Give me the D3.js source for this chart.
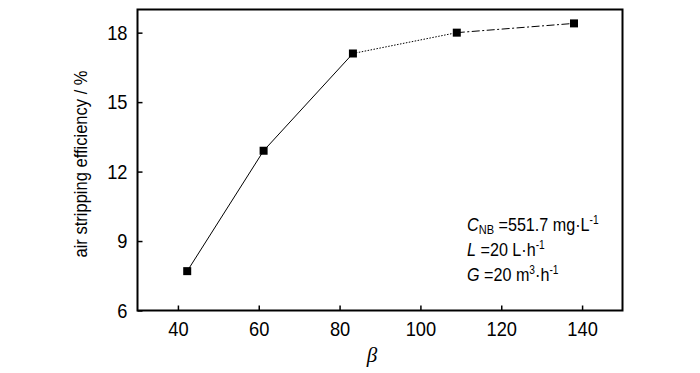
<!DOCTYPE html>
<html>
<head>
<meta charset="utf-8">
<script src="https://cdn.jsdelivr.net/npm/d3@7"></script>
<style>
  body { margin: 0; background: #fff; }
  svg { display: block; }
</style>
</head>
<body>
<div id="chart"></div>
<script>
const beta = [42.3, 61.2, 83.3, 109, 138]
const efficiency = [7.7, 12.9, 17.1, 18.0, 18.4]
// line style of each segment between consecutive points
const segStyles = ['solid', 'solid', 'dotted', 'dashdot']
const xTicks = [40, 60, 80, 100, 120, 140]
const yTicks = [6, 9, 12, 15, 18]

const width = 700
const height = 373
const margin = { top: 9.5, right: 77.5, bottom: 62.5, left: 137.5 }
const font = '"Liberation Sans", Arial, sans-serif'
const narrow = 0.87 // the original type is condensed

const dashes = { solid: null, dotted: '1.5,1.5', dashdot: '8,2.5,2,2.5' }

const x = d3.scaleLinear()
  .domain([30, 150])
  .range([margin.left, width - margin.right])

const y = d3.scaleLinear()
  .domain([6, 19])
  .range([height - margin.bottom, margin.top])

const svg = d3.select('#chart').append('svg')
  .attr('width', width)
  .attr('height', height)

const points = beta.map((b, i) => ({ b, e: efficiency[i] }))

// connecting segments
svg.append('g')
  .selectAll('line')
  .data(segStyles)
  .join('line')
  .attr('x1', (d, i) => x(points[i].b))
  .attr('y1', (d, i) => y(points[i].e))
  .attr('x2', (d, i) => x(points[i + 1].b))
  .attr('y2', (d, i) => y(points[i + 1].e))
  .attr('stroke', '#000')
  .attr('stroke-width', 1)
  .attr('stroke-dasharray', d => dashes[d])

// markers
svg.append('g')
  .selectAll('rect')
  .data(points)
  .join('rect')
  .attr('x', d => x(d.b) - 4)
  .attr('y', d => y(d.e) - 4)
  .attr('width', 8)
  .attr('height', 8)
  .attr('fill', '#000')

// axes, ticks pointing inward
const xAxis = svg.append('g')
  .attr('transform', `translate(0,${height - margin.bottom})`)
  .call(d3.axisBottom(x).tickValues(xTicks).tickSizeInner(-5).tickSizeOuter(0).tickPadding(11))
const yAxis = svg.append('g')
  .attr('transform', `translate(${margin.left},0)`)
  .call(d3.axisLeft(y).tickValues(yTicks).tickSizeInner(-5).tickSizeOuter(0).tickPadding(10))

;[xAxis, yAxis].forEach(g => {
  g.select('.domain').remove()
  g.selectAll('.tick line').attr('stroke', '#000').attr('stroke-width', 1.5)
  g.selectAll('.tick text')
    .attr('fill', '#000')
    .attr('font-family', font)
    .attr('font-size', 21)
})
xAxis.selectAll('.tick text')
  .attr('dy', '0.71em')
  .attr('transform', `scale(${narrow},1)`)
yAxis.selectAll('.tick text')
  .attr('x', -10 / narrow)
  .attr('transform', `scale(${narrow},1)`)

// frame
svg.append('rect')
  .attr('x', margin.left)
  .attr('y', margin.top)
  .attr('width', width - margin.left - margin.right)
  .attr('height', height - margin.top - margin.bottom)
  .attr('fill', 'none')
  .attr('stroke', '#000')
  .attr('stroke-width', 2)

// axis titles
svg.append('text')
  .attr('transform', `translate(87,${(margin.top + height - margin.bottom) / 2 + 4}) rotate(-90) scale(${narrow},1)`)
  .attr('text-anchor', 'middle')
  .attr('font-family', font)
  .attr('font-size', 19)
  .text('air stripping efficiency / %')

svg.append('text')
  .attr('x', (margin.left + width - margin.right) / 2 - 8)
  .attr('y', 362)
  .attr('text-anchor', 'middle')
  .attr('font-family', '"Liberation Serif", "Times New Roman", serif')
  .attr('font-style', 'italic')
  .attr('font-size', 21)
  .text('β')

// condition note
const note = svg.append('g')
  .attr('transform', `translate(467,0) scale(0.85,1)`)
  .attr('font-family', font)
  .attr('font-size', 19)
  .attr('fill', '#000')

const l1 = note.append('text').attr('x', 0).attr('y', 231)
l1.append('tspan').attr('font-style', 'italic').text('C')
l1.append('tspan').attr('font-size', 13).attr('dy', 3).text('NB')
l1.append('tspan').attr('dy', -3).text(' =551.7 mg·L')
l1.append('tspan').attr('font-size', 12).attr('dy', -7).text('-1')

const l2 = note.append('text').attr('x', 0).attr('y', 256)
l2.append('tspan').attr('font-style', 'italic').text('L')
l2.append('tspan').text(' =20 L·h')
l2.append('tspan').attr('font-size', 12).attr('dy', -7).text('-1')

const l3 = note.append('text').attr('x', 0).attr('y', 281)
l3.append('tspan').attr('font-style', 'italic').text('G')
l3.append('tspan').text(' =20 m')
l3.append('tspan').attr('font-size', 12).attr('dy', -7).text('3')
l3.append('tspan').attr('dy', 7).text('·h')
l3.append('tspan').attr('font-size', 12).attr('dy', -7).text('-1')
</script>
</body>
</html>
